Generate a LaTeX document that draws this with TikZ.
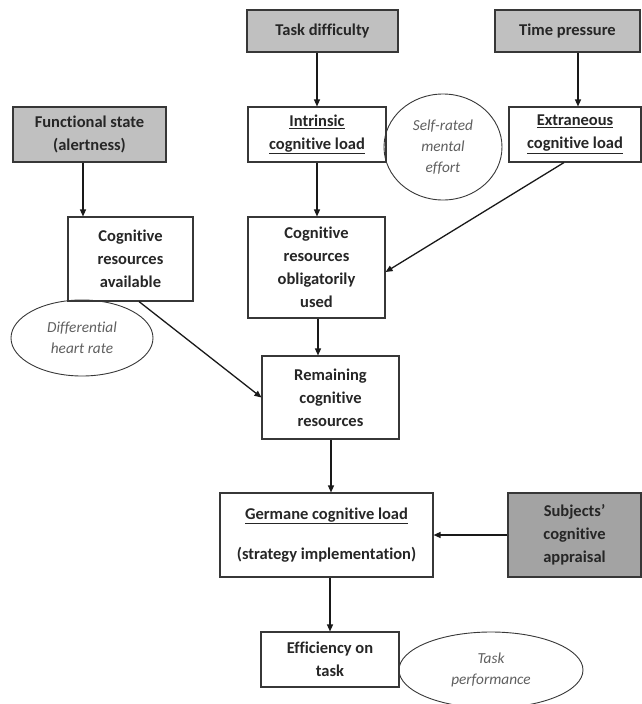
\documentclass[tikz,border=0pt]{standalone}
\usepackage{fontspec}
\setmainfont{Carlito}[Ligatures=NoCommon]
\usetikzlibrary{arrows.meta,shapes.geometric}
\definecolor{factorgray}{RGB}{192,192,192}
\definecolor{appraisalgray}{RGB}{163,163,163}
\definecolor{edgegray}{RGB}{55,55,55}
\definecolor{notegray}{RGB}{95,95,95}

\begin{document}
\begin{tikzpicture}[x=1pt, y=-1pt,
  box/.style={draw=edgegray, line width=1.1pt, fill=white, inner sep=0pt,
    align=center, text=black!85, font=\bfseries\fontsize{16.5}{23}\selectfont},
  factor/.style={box, fill=factorgray},
  measure/.style={ellipse, draw=edgegray, line width=0.9pt, inner sep=0pt,
    align=center, text=notegray, font=\itshape\fontsize{15.3}{21}\selectfont},
  arr/.style={line width=1.3pt, black!90, -{Triangle[length=7pt, width=6pt]}}]
  \useasboundingbox (0,0) rectangle (641,704);
  % Influencing factors
  \node[factor, minimum width=151pt, minimum height=42pt] (task) at (322.5,31) {Task difficulty};
  \node[factor, minimum width=145pt, minimum height=42pt] (time) at (567.5,31) {Time pressure};
  \node[factor, minimum width=153pt, minimum height=55pt] (func) at (89.5,134.5) {Functional state\\(alertness)};
  \node[factor, fill=appraisalgray, minimum width=133pt, minimum height=84pt] (subj) at (574.5,535) {Subjects'\\cognitive\\appraisal};
  % Loads and resources
  \node[box, minimum width=138pt, minimum height=55pt] (intr) at (317,134.5) {\underline{Intrinsic}\\\underline{cognitive load}};
  \node[box, minimum width=132pt, minimum height=55pt] (extr) at (575,134.5) {\underline{Extraneous}\\\underline{cognitive load}};
  \node[box, minimum width=125pt, minimum height=84pt] (avail) at (130.5,259) {Cognitive\\resources\\available};
  \node[box, minimum width=137pt, minimum height=101pt] (oblig) at (316.5,267.5) {Cognitive\\resources\\obligatorily\\used};
  \node[box, minimum width=137pt, minimum height=83pt] (remain) at (330.5,397.5) {Remaining\\cognitive\\resources};
  \node[box, minimum width=213pt, minimum height=84pt] (germ) at (326.5,535) {\underline{Germane cognitive load}\\[17pt](strategy implementation)};
  \node[box, minimum width=138pt, minimum height=55pt] (effic) at (330,659.5) {Efficiency on\\task};
  % Measures
  \node[measure, minimum width=118pt, minimum height=106pt] (self) at (443,147) {Self-rated\\mental\\effort};
  \node[measure, minimum width=142pt, minimum height=76pt] (hr) at (82,338) {Differential\\heart rate};
  \node[measure, minimum width=184pt, minimum height=76pt] (perf) at (491,670) {Task\\performance};
  % Arrows
  \draw[arr] (intr.north |- task.south) -- (intr.north);
  \draw[arr] ([xshift=3pt]extr.north |- time.south) -- ([xshift=3pt]extr.north);
  \draw[arr] ([xshift=-6.5pt]func.south) -- ([xshift=-6.5pt]func.south |- avail.north);
  \draw[arr] (intr.south) -- (intr.south |- oblig.north);
  \draw[arr] ([xshift=-11pt]extr.south) -- ([yshift=-4.5pt]oblig.east);
  \draw[arr] ([xshift=1.5pt]oblig.south) -- ([xshift=1.5pt]oblig.south |- remain.north);
  \draw[arr] ([xshift=8.5pt]avail.south) -- (remain.west);
  \draw[arr] ([xshift=0.5pt]remain.south) -- ([xshift=0.5pt]remain.south |- germ.north);
  \draw[arr] (subj.west) -- (germ.east);
  \draw[arr] (effic.north |- germ.south) -- (effic.north);
\end{tikzpicture}
\end{document}
